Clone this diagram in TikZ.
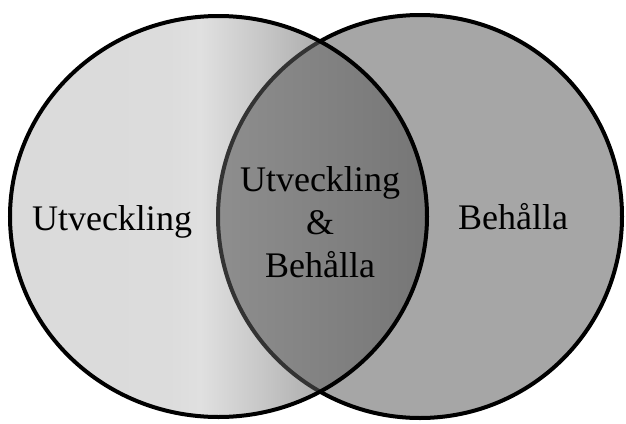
\documentclass[tikz,border=0pt]{standalone}
\usepackage{fontspec}
\setmainfont{Liberation Serif}
\definecolor{lA}{HTML}{DADADA}
\definecolor{lB}{HTML}{DCDCDC}
\definecolor{lC}{HTML}{E0E0E0}
\definecolor{lD}{HTML}{C8C8C8}
\definecolor{lE}{HTML}{ADADAD}
\definecolor{lF}{HTML}{A0A0A0}
\definecolor{iA}{HTML}{8E8E8E}
\definecolor{iB}{HTML}{767676}
\definecolor{rfill}{HTML}{A6A6A6}
\definecolor{innerline}{HTML}{333333}
\pgfdeclarehorizontalshading{leftshade}{100bp}{color(0bp)=(lA); color(25bp)=(lA); color(44bp)=(lB); color(47.8bp)=(lC); color(55bp)=(lD); color(62.2bp)=(lE); color(75bp)=(lF); color(100bp)=(lF)}
\pgfdeclarehorizontalshading{midshade}{100bp}{color(0bp)=(iA); color(25bp)=(iA); color(51bp)=(iB); color(100bp)=(iB)}
\tikzset{
  lbl/.style={font=\fontsize{36}{43}\selectfont, anchor=base, inner sep=0pt},
  rim/.style={line width=4pt}
}
\begin{document}
\begin{tikzpicture}[x=1pt,y=-1pt]
\fill[white] (0,0) rectangle (626,423);
\useasboundingbox (0,0) rectangle (626,423);
\def\leftell{(218.5,216.5) ellipse [x radius=208.5, y radius=200.5]}
\def\rightell{(420,216.5) ellipse [x radius=202, y radius=201.5]}
% right circle
\fill[rfill] \rightell;
\draw[rim] \rightell;
% left circle
\shade[shading=leftshade] \leftell;
\begin{scope}
  \clip \leftell;
  \shade[shading=midshade] \rightell;
  \draw[rim, innerline] \rightell;
\end{scope}
\draw[rim] \leftell;
% labels
\node[lbl] (lt) at (112,230) {Utveckling};
\node[lbl] (rt) at (513,229) {Behålla};
\node[lbl] (m1) at (320,191) {Utveckling};
\node[lbl] (m2) at (320,234) {\&};
\node[lbl] (m3) at (320,277) {Behålla};
\end{tikzpicture}
\end{document}
